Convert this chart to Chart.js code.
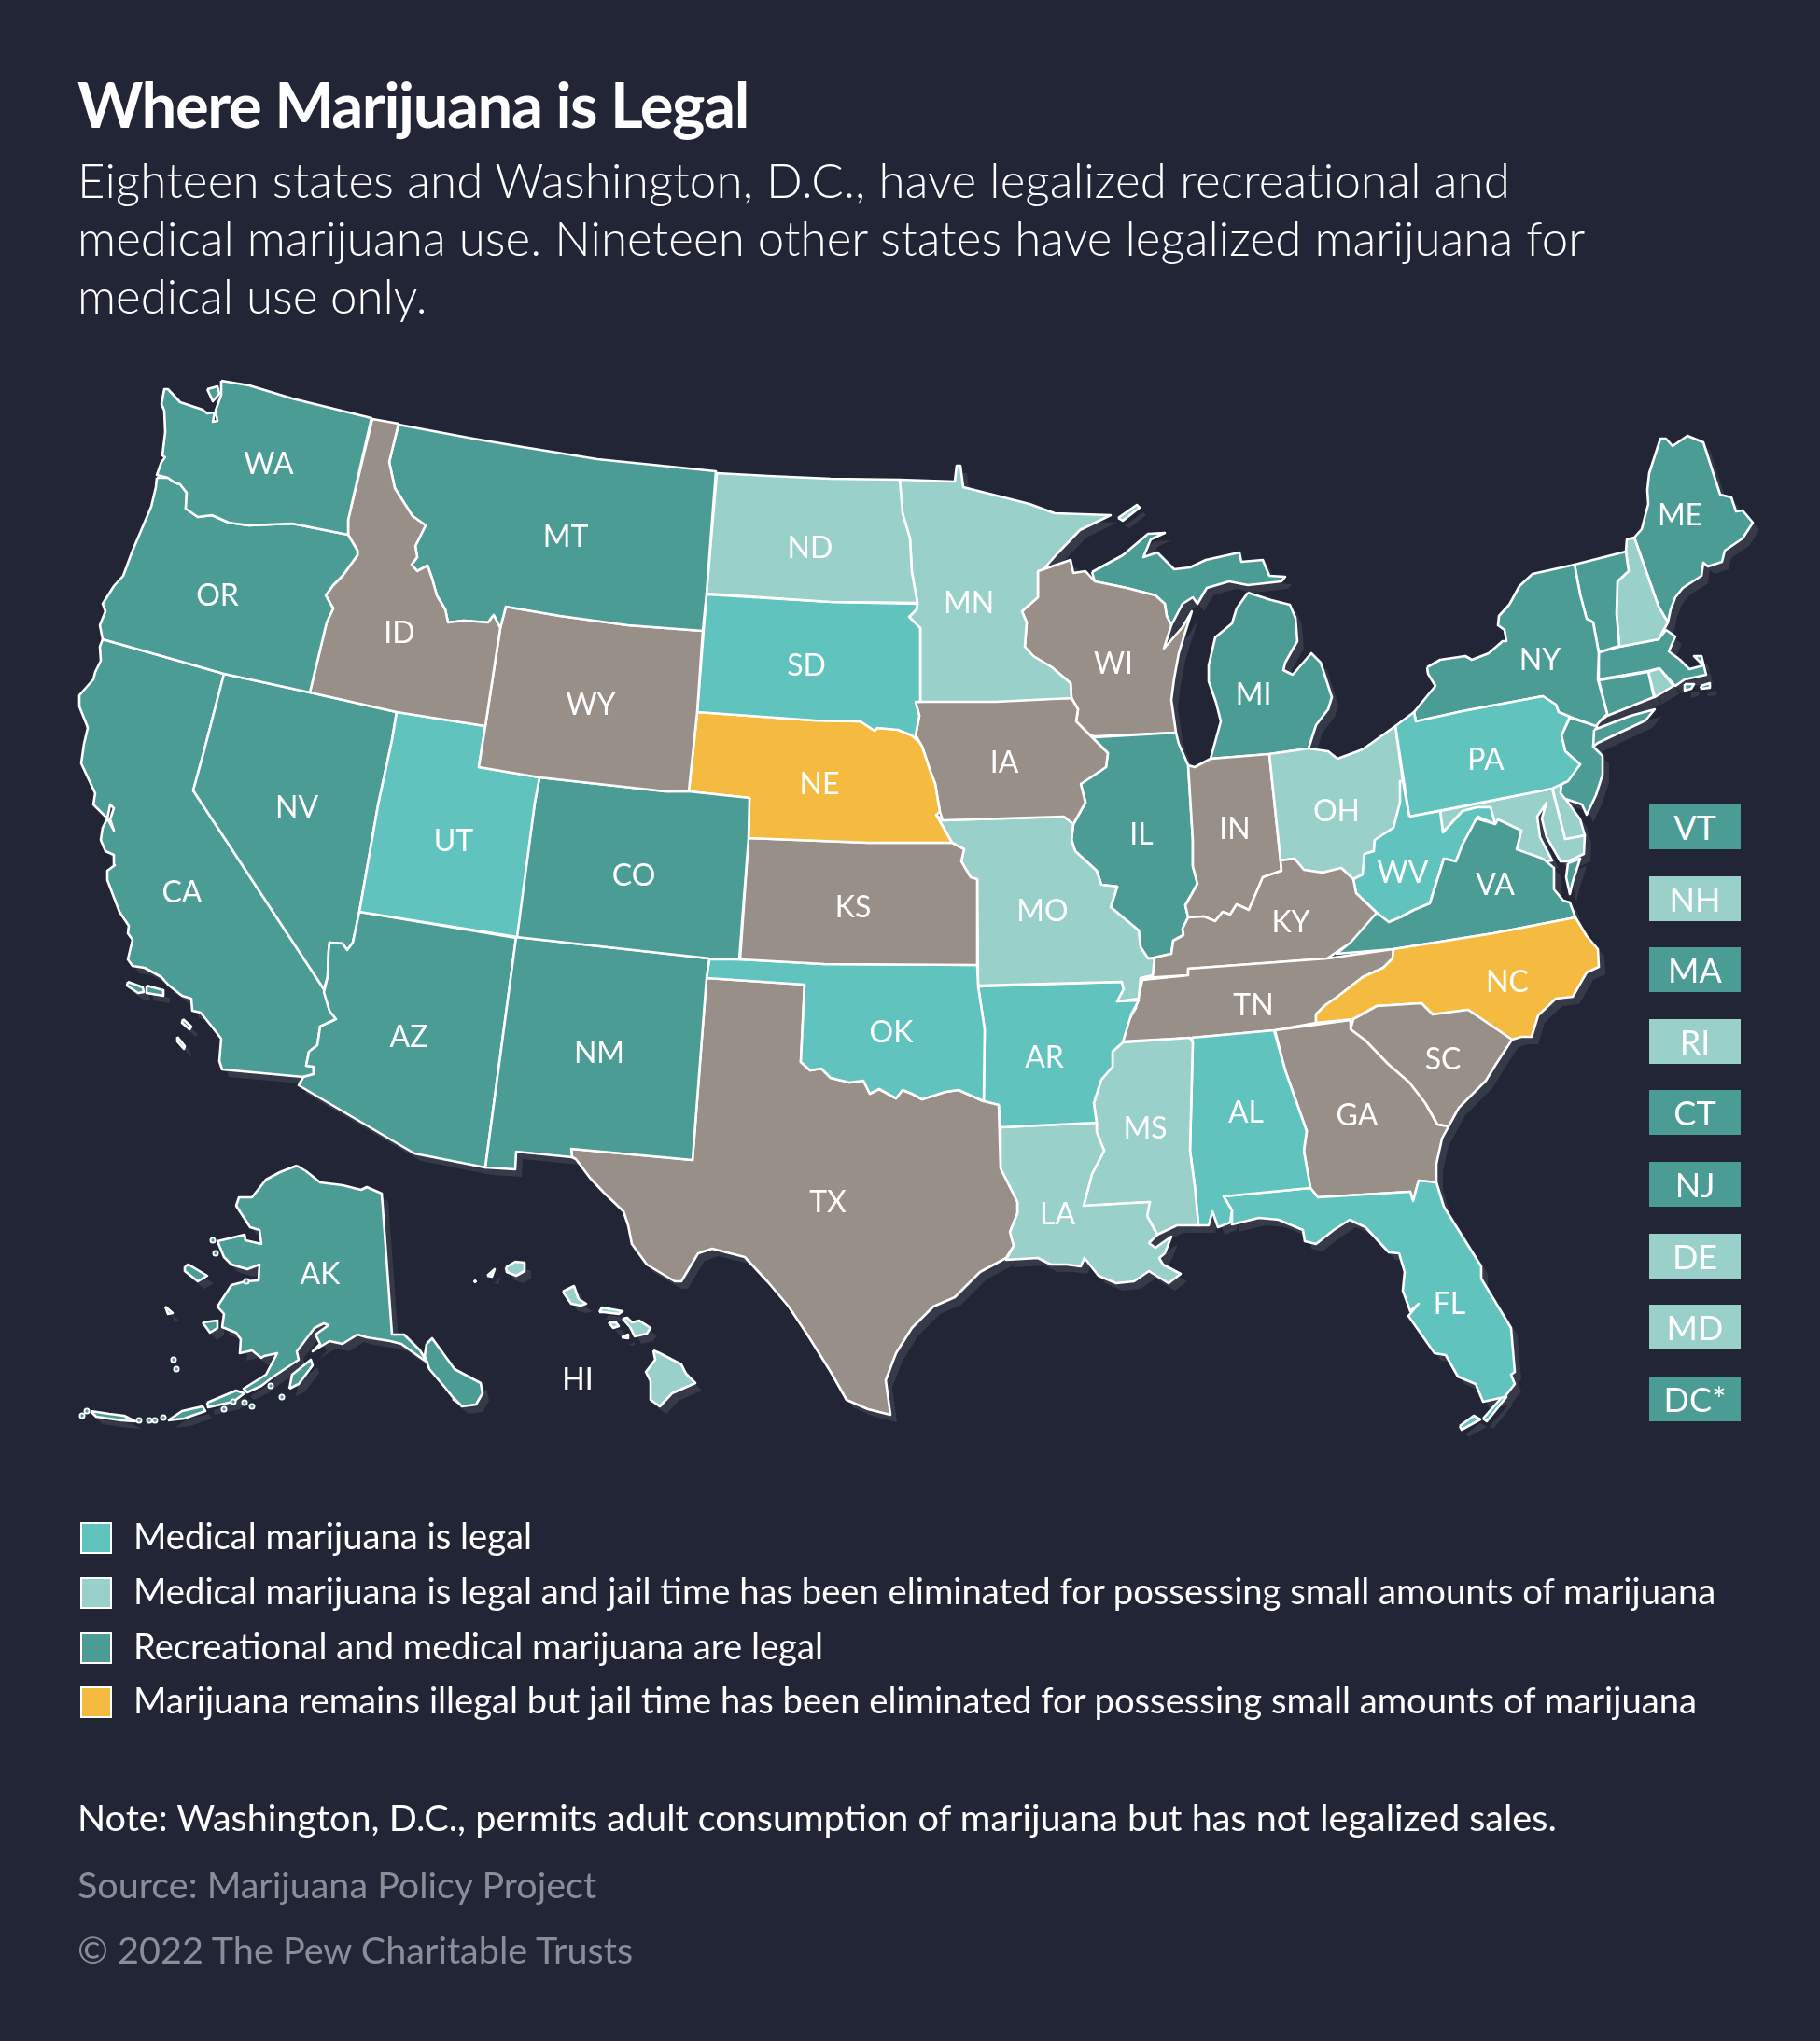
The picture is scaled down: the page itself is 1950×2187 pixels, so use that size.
<!DOCTYPE html>
<html><head><meta charset="utf-8">
<script src="https://cdn.jsdelivr.net/npm/chart.js@4"></script>
<style>
html,body{margin:0;padding:0;background:#222536;width:1950px;height:2187px;overflow:hidden}
#wrap{position:relative;width:1950px;height:2187px}
canvas{position:absolute;left:0;top:0}
.t{position:absolute;white-space:nowrap;font-family:Lato,sans-serif;line-height:1.2;color:#fff}
.box{position:absolute;left:1767px;width:98px;height:48px;text-align:center;font:400 36px/49px Lato,sans-serif;color:#fff}
.sw{position:absolute;left:86px;width:30px;height:30px;border:2px solid #fff}
</style></head><body><div id="wrap"><canvas id="c" width="1950" height="2187"></canvas></div>
<script>
const titleText='Where Marijuana is Legal';
const subtitleLines=['Eighteen states and Washington, D.C., have legalized recreational and','medical marijuana use. Nineteen other states have legalized marijuana for','medical use only.'];
const legendItems=['Medical marijuana is legal','Medical marijuana is legal and jail time has been eliminated for possessing small amounts of marijuana','Recreational and medical marijuana are legal','Marijuana remains illegal but jail time has been eliminated for possessing small amounts of marijuana'];
const noteText='Note: Washington, D.C., permits adult consumption of marijuana but has not legalized sales.';
const sourceText='Source: Marijuana Policy Project';
const copyText='© 2022 The Pew Charitable Trusts';
const MED='#60c3bd',DEC='#99d0ca',REC='#4c9c96',ILD='#f5bb41',ILL='#988f89';
const legendColors=[MED,DEC,REC,ILD];
const calloutCodes=['VT','NH','MA','RI','CT','NJ','DE','MD','DC*'];
const calloutColors=[REC,DEC,REC,DEC,REC,REC,DEC,DEC,REC];

const WA=[[237,408],[267,413],[313,427],[398,448],[373,557],[373,573],[313,561],[267,563],[245,560],[227,552],[212,554],[199,545],[200,528],[193,519],[187,517],[180,512],[168,509],[173,495],[177,490],[174,488],[177,463],[176,440],[173,433],[176,417],[180,417],[193,431],[217,439],[222,443],[230,442],[228,452],[233,451],[231,440],[237,423]];
const WA_isle=[[222,417],[233,414],[235,422],[228,430]];
const OR=[[168,512],[180,512],[187,517],[193,519],[200,528],[199,545],[212,554],[227,552],[245,560],[267,563],[313,561],[373,573],[383,590],[383,595],[367,617],[357,627],[349,638],[357,652],[350,667],[332,742],[240,722],[170,702],[110,685],[107,670],[113,655],[110,647],[122,628],[132,617],[142,590],[162,543],[167,522]];
const ID=[[399,449],[427,454],[417,495],[423,523],[442,553],[456,563],[445,585],[447,597],[441,605],[447,612],[458,606],[463,620],[468,638],[477,653],[480,667],[497,665],[523,667],[529,659],[536,673],[520,778],[425,763],[332,742],[350,667],[357,652],[349,638],[357,627],[367,617],[383,595],[383,590],[373,573],[373,557]];
const MT=[[427,455],[507,470],[560,479],[640,492],[767,505],[757,636],[753,676],[673,670],[600,660],[542,650],[536,673],[529,659],[523,667],[497,665],[480,667],[477,653],[468,638],[463,620],[458,606],[447,612],[441,605],[447,597],[445,585],[456,563],[442,553],[423,523],[417,495]];
const WY=[[542,650],[600,660],[673,670],[753,676],[747,763],[738,848],[713,848],[578,833],[513,822],[520,778],[536,673]];
const UT=[[425,763],[520,778],[513,822],[578,833],[573,860],[554,1004],[385,977],[405,863],[420,793]];
const CO=[[578,833],[713,848],[738,848],[803,855],[802,898],[792,1028],[760,1027],[553,1004],[573,860]];
const NM=[[553,1004],[760,1027],[757,1048],[742,1243],[612,1231],[613,1240],[553,1234],[552,1253],[520,1251]];
const AZ=[[385,977],[553,1005],[520,1251],[444,1236],[320,1163],[325,1154],[336,1151],[336,1143],[328,1142],[331,1127],[340,1120],[343,1100],[360,1092],[353,1083],[347,1063],[351,1047],[352,1020],[353,1010],[367,1011],[372,1018],[378,1010]];
const NV=[[240,722],[332,742],[425,763],[420,793],[405,863],[385,977],[378,1010],[372,1018],[367,1011],[353,1010],[352,1020],[351,1047],[347,1060],[207,847],[218,807]];
const CA=[[110,685],[240,722],[218,807],[207,847],[347,1060],[353,1083],[360,1092],[343,1100],[340,1120],[331,1127],[328,1142],[336,1143],[336,1151],[325,1154],[238,1146],[235,1137],[237,1113],[227,1100],[215,1085],[206,1083],[205,1070],[195,1067],[180,1055],[173,1047],[155,1037],[142,1035],[137,1028],[142,1007],[137,1000],[138,992],[128,977],[115,943],[115,933],[123,927],[122,916],[113,912],[108,900],[110,887],[115,877],[122,890],[118,878],[122,866],[118,862],[115,877],[100,862],[102,850],[87,818],[90,797],[94,780],[93,777],[85,757],[85,745],[100,728],[102,720],[108,708],[107,693]];
const CA_isle1=[[137,1052],[153,1058],[154,1063],[148,1064],[136,1056]];
const CA_isle2=[[157,1056],[175,1061],[175,1067],[157,1064]];
const CA_isle3=[[196,1092],[205,1100],[203,1103],[195,1096]];
const CA_isle4=[[190,1111],[198,1121],[197,1124],[190,1116]];
const ND=[[768,507],[823,510],[890,513],[964,514],[967,550],[975,577],[977,613],[983,646],[890,645],[757,636]];
const SD=[[757,637],[890,645],[983,647],[982,653],[974,661],[986,673],[986,752],[981,752],[985,767],[981,788],[985,795],[977,788],[962,782],[940,780],[937,783],[922,773],[873,772],[747,763]];
const NE=[[747,763],[873,772],[922,773],[937,783],[940,780],[962,782],[977,788],[985,795],[988,800],[997,827],[1002,840],[1007,870],[1003,873],[1020,903],[930,903],[802,898],[803,855],[738,848]];
const KS=[[802,898],[930,903],[1020,903],[1033,910],[1030,923],[1040,940],[1047,942],[1047,1034],[883,1033],[793,1028]];
const OK=[[760,1028],[793,1028],[883,1033],[1047,1034],[1048,1057],[1055,1103],[1054,1180],[1027,1168],[1013,1170],[988,1178],[977,1172],[967,1168],[960,1177],[942,1167],[932,1172],[925,1158],[910,1160],[890,1155],[880,1145],[868,1147],[858,1138],[862,1055],[757,1048]];
const TX=[[757,1048],[862,1055],[858,1138],[868,1147],[880,1145],[890,1155],[910,1160],[925,1158],[932,1172],[942,1167],[960,1177],[967,1168],[977,1172],[988,1178],[1013,1170],[1027,1168],[1054,1180],[1070,1184],[1072,1252],[1090,1288],[1090,1300],[1082,1320],[1086,1335],[1078,1348],[1050,1363],[1023,1390],[1000,1400],[977,1423],[960,1450],[949,1479],[954,1516],[930,1510],[907,1500],[890,1470],[865,1430],[845,1400],[823,1374],[798,1347],[763,1338],[748,1343],[730,1373],[723,1373],[693,1355],[677,1333],[673,1313],[668,1298],[647,1278],[632,1262],[617,1242],[613,1240],[612,1231],[742,1243]];
const MN=[[964,514],[1023,516],[1025,499],[1029,499],[1032,522],[1103,540],[1130,550],[1190,552],[1157,568],[1133,593],[1118,610],[1112,612],[1112,640],[1095,655],[1100,667],[1098,693],[1107,703],[1127,715],[1147,732],[1148,748],[1067,752],[986,752],[986,673],[974,661],[982,653],[983,646],[977,613],[975,577],[967,550]];
const MN_isle=[[1198,555],[1218,541],[1221,544],[1203,558]];
const IA=[[981,752],[1148,748],[1155,760],[1153,773],[1168,788],[1187,807],[1185,822],[1158,840],[1163,860],[1150,883],[1140,875],[1010,879],[1007,870],[1002,840],[997,827],[988,800],[985,795],[981,788],[985,767]];
const MO=[[1010,879],[1140,875],[1150,883],[1148,900],[1152,912],[1175,933],[1180,948],[1197,950],[1190,972],[1220,997],[1222,1015],[1230,1027],[1237,1027],[1235,1045],[1222,1048],[1220,1070],[1197,1073],[1204,1060],[1202,1052],[1048,1056],[1047,942],[1040,940],[1030,923],[1033,910],[1020,903],[1003,873]];
const AR=[[1048,1057],[1202,1052],[1204,1060],[1197,1073],[1220,1072],[1212,1087],[1203,1117],[1192,1127],[1192,1143],[1180,1157],[1172,1182],[1175,1203],[1072,1208],[1070,1184],[1054,1180],[1055,1103]];
const LA=[[1072,1208],[1175,1203],[1175,1213],[1183,1233],[1170,1258],[1161,1292],[1232,1288],[1229,1303],[1240,1323],[1231,1332],[1238,1337],[1255,1325],[1248,1343],[1242,1348],[1246,1355],[1265,1365],[1252,1375],[1231,1362],[1215,1373],[1196,1375],[1177,1367],[1162,1348],[1158,1357],[1143,1355],[1126,1355],[1112,1348],[1078,1350],[1086,1335],[1082,1320],[1090,1300],[1090,1288],[1072,1252]];
const MS=[[1203,1117],[1275,1112],[1278,1117],[1275,1233],[1280,1270],[1284,1313],[1261,1313],[1242,1322],[1240,1323],[1229,1303],[1232,1288],[1161,1292],[1170,1258],[1183,1233],[1175,1213],[1175,1203],[1172,1182],[1180,1157],[1192,1143],[1192,1127]];
const AL=[[1277,1112],[1365,1104],[1377,1147],[1400,1212],[1397,1233],[1404,1273],[1311,1282],[1320,1297],[1318,1310],[1305,1315],[1299,1298],[1295,1313],[1284,1313],[1280,1270],[1275,1233],[1278,1117]];
const FL=[[1311,1282],[1404,1273],[1412,1283],[1511,1277],[1514,1287],[1520,1265],[1539,1267],[1547,1293],[1587,1357],[1587,1370],[1619,1423],[1623,1470],[1619,1473],[1623,1483],[1612,1497],[1589,1502],[1581,1483],[1562,1475],[1549,1452],[1537,1450],[1509,1410],[1520,1397],[1511,1405],[1503,1383],[1505,1363],[1499,1343],[1488,1342],[1463,1315],[1446,1307],[1429,1318],[1410,1333],[1398,1330],[1396,1318],[1370,1307],[1349,1305],[1320,1312],[1320,1297]];
const FL_key1=[[1589,1520],[1612,1494],[1614,1497],[1593,1523]];
const FL_key2=[[1564,1528],[1579,1517],[1586,1521],[1566,1532]];
const GA=[[1366,1104],[1447,1093],[1447,1103],[1463,1115],[1487,1140],[1510,1160],[1527,1182],[1540,1205],[1552,1207],[1545,1220],[1539,1247],[1539,1267],[1520,1265],[1514,1287],[1511,1277],[1412,1283],[1404,1273],[1397,1233],[1400,1212],[1377,1147]];
const SC=[[1447,1103],[1450,1092],[1475,1078],[1523,1075],[1535,1087],[1573,1082],[1620,1114],[1603,1140],[1592,1158],[1563,1187],[1552,1207],[1540,1205],[1527,1182],[1510,1160],[1487,1140],[1463,1115]];
const NC=[[1410,1096],[1410,1087],[1420,1077],[1433,1068],[1460,1047],[1482,1037],[1492,1027],[1493,1017],[1600,1000],[1688,983],[1700,1003],[1712,1017],[1713,1036],[1700,1042],[1685,1068],[1667,1070],[1648,1088],[1641,1111],[1630,1111],[1620,1114],[1573,1082],[1535,1087],[1523,1075],[1475,1078],[1450,1092]];
const TN=[[1203,1116],[1208,1095],[1217,1080],[1224,1050],[1273,1045],[1273,1038],[1422,1027],[1493,1017],[1492,1027],[1482,1037],[1460,1047],[1433,1068],[1420,1077],[1410,1087],[1410,1096],[1366,1104],[1277,1112]];
const KY=[[1224,1048],[1235,1045],[1237,1026],[1255,1022],[1257,1008],[1268,1002],[1267,995],[1273,983],[1290,982],[1302,987],[1310,977],[1318,980],[1325,969],[1338,975],[1353,940],[1373,933],[1372,922],[1387,920],[1397,932],[1417,935],[1437,930],[1450,942],[1453,957],[1475,978],[1447,1010],[1422,1027],[1273,1038],[1273,1045]];
const VA=[[1475,978],[1488,988],[1500,983],[1515,975],[1532,968],[1547,920],[1560,923],[1567,905],[1582,877],[1602,883],[1605,878],[1630,890],[1625,910],[1653,920],[1665,930],[1665,953],[1675,965],[1682,967],[1688,983],[1600,1000],[1493,1017],[1432,1022],[1443,1013],[1450,1000]];
const VA_shore=[[1680,925],[1693,920],[1685,945],[1682,958],[1678,940]];
const WV=[[1510,875],[1543,869],[1546,892],[1567,869],[1583,865],[1597,865],[1602,883],[1583,875],[1567,905],[1560,923],[1547,920],[1532,968],[1515,975],[1500,983],[1488,988],[1475,978],[1453,957],[1450,942],[1460,937],[1462,915],[1472,912],[1473,900],[1493,887],[1500,860],[1500,837],[1503,837]];
const OH=[[1360,808],[1402,802],[1423,805],[1433,813],[1460,803],[1495,778],[1503,837],[1500,860],[1493,887],[1473,900],[1472,912],[1462,915],[1460,937],[1450,942],[1437,930],[1417,935],[1397,932],[1387,920],[1372,922]];
const IN=[[1273,820],[1280,822],[1297,813],[1360,808],[1372,922],[1373,933],[1353,940],[1338,975],[1325,969],[1318,980],[1310,977],[1302,987],[1290,982],[1273,983],[1270,970],[1283,947],[1278,928],[1278,900]];
const IL=[[1173,790],[1260,785],[1263,797],[1273,820],[1278,900],[1278,928],[1283,947],[1270,970],[1273,983],[1267,995],[1268,1002],[1257,1008],[1255,1022],[1237,1026],[1230,1027],[1222,1015],[1220,997],[1190,972],[1197,950],[1180,948],[1175,933],[1152,912],[1148,900],[1150,883],[1163,860],[1158,840],[1185,822],[1187,807],[1168,788]];
const WI=[[1112,612],[1118,610],[1147,600],[1150,614],[1163,612],[1173,623],[1207,630],[1238,638],[1248,647],[1250,660],[1255,670],[1247,695],[1267,672],[1277,655],[1270,677],[1263,700],[1258,727],[1255,750],[1260,785],[1173,789],[1168,788],[1153,773],[1155,760],[1148,748],[1147,732],[1127,715],[1107,703],[1098,693],[1100,667],[1095,655],[1112,640]];
const MI_upper=[[1170,613],[1190,602],[1203,595],[1230,572],[1248,571],[1233,578],[1225,597],[1240,592],[1258,610],[1275,608],[1292,600],[1328,592],[1330,602],[1353,600],[1360,617],[1377,618],[1373,623],[1337,627],[1317,623],[1293,630],[1283,647],[1278,640],[1267,647],[1255,670],[1250,660],[1248,647],[1238,638],[1207,630],[1173,623]];
const MI_lower=[[1337,635],[1362,643],[1382,648],[1388,662],[1390,687],[1377,710],[1375,718],[1385,723],[1405,700],[1415,710],[1427,747],[1423,760],[1410,777],[1402,802],[1360,808],[1297,813],[1308,773],[1303,753],[1295,730],[1295,713],[1302,683],[1320,668],[1325,652]];
const PA=[[1495,778],[1515,763],[1517,773],[1567,762],[1653,746],[1667,755],[1670,763],[1682,768],[1673,788],[1677,805],[1693,819],[1680,837],[1663,845],[1510,875]];
const NY=[[1529,715],[1543,707],[1570,703],[1577,707],[1595,700],[1610,687],[1614,687],[1612,675],[1605,670],[1606,660],[1617,648],[1628,628],[1642,615],[1687,605],[1693,637],[1700,663],[1707,667],[1713,700],[1712,728],[1722,765],[1715,772],[1710,778],[1682,768],[1670,763],[1667,755],[1653,746],[1567,762],[1517,773],[1515,763],[1538,735],[1530,722]];
const NY_long=[[1708,782],[1747,767],[1773,760],[1763,772],[1712,796],[1707,800]];
const VT=[[1687,605],[1742,591],[1745,612],[1733,623],[1732,658],[1735,692],[1713,699],[1707,667],[1700,663],[1693,637]];
const NH=[[1742,591],[1743,578],[1751,576],[1777,650],[1787,667],[1777,685],[1735,693],[1732,658],[1733,623],[1745,612]];
const ME=[[1751,576],[1759,567],[1766,540],[1765,525],[1767,507],[1779,470],[1785,470],[1792,478],[1808,467],[1825,474],[1843,530],[1855,533],[1860,548],[1867,547],[1878,560],[1867,577],[1848,590],[1845,602],[1830,607],[1825,603],[1823,617],[1803,630],[1795,640],[1790,653],[1787,667],[1777,650]];
const MA=[[1713,699],[1735,693],[1777,685],[1785,675],[1795,682],[1788,698],[1800,707],[1810,717],[1825,713],[1815,703],[1823,703],[1828,723],[1805,728],[1795,735],[1778,716],[1766,719],[1713,728]];
const CT=[[1713,729],[1766,720],[1772,747],[1722,767],[1715,772],[1722,765]];
const RI=[[1766,720],[1778,716],[1793,735],[1773,747]];
const MA_isle1=[[1805,733],[1815,733],[1812,738],[1805,740]];
const MA_isle2=[[1822,735],[1832,732],[1832,737],[1823,738]];
const NJ=[[1682,769],[1711,778],[1707,800],[1717,810],[1717,830],[1710,852],[1700,873],[1695,862],[1677,856],[1672,850],[1673,840],[1693,819],[1677,805],[1673,788]];
const DE=[[1663,843],[1673,840],[1672,850],[1678,857],[1693,878],[1698,895],[1677,899]];
const MD=[[1543,869],[1663,845],[1677,899],[1698,895],[1697,915],[1680,923],[1672,923],[1657,897],[1652,877],[1657,860],[1647,875],[1650,897],[1663,922],[1657,923],[1625,912],[1630,890],[1605,878],[1602,883],[1597,865],[1583,865],[1567,869],[1546,892]];
const DC=[[1627,887],[1632,890],[1629,895]];
const AK=[[318,1249],[328,1255],[343,1267],[367,1270],[387,1275],[393,1272],[409,1279],[420,1430],[433,1430],[450,1447],[458,1460],[448,1453],[430,1440],[418,1437],[393,1433],[383,1430],[367,1440],[353,1437],[335,1448],[343,1440],[338,1430],[352,1420],[347,1418],[337,1423],[318,1448],[320,1457],[293,1475],[280,1485],[265,1492],[261,1488],[285,1473],[297,1450],[283,1453],[280,1455],[270,1447],[257,1450],[258,1435],[253,1428],[238,1422],[240,1408],[233,1400],[248,1377],[263,1373],[277,1372],[278,1355],[265,1360],[248,1355],[240,1347],[233,1330],[262,1323],[263,1329],[280,1333],[278,1318],[268,1315],[253,1292],[256,1283],[270,1283],[285,1264],[300,1256]];
const AK_kodiak=[[310,1488],[313,1473],[333,1457],[335,1463],[320,1483]];
const AK_pan1=[[457,1440],[463,1434],[487,1467],[515,1482],[517,1493],[510,1505],[495,1507],[485,1497],[477,1487],[460,1467],[455,1453]];
const AK_pan2=[[470,1465],[482,1470],[487,1485],[478,1480]];
const AK_pan3=[[490,1480],[505,1488],[503,1500],[492,1495]];
const AK_pan4=[[458,1455],[470,1452],[476,1466],[464,1470]];
const AK_pan5=[[486,1490],[496,1497],[494,1505],[486,1500]];
const AK_pan6=[[468,1445],[478,1458],[474,1460],[465,1448]];
const AK_law=[[198,1357],[202,1355],[222,1367],[212,1373],[198,1362]];
const AK_nun=[[217,1417],[233,1415],[233,1423],[225,1428]];
const AK_mat=[[177,1400],[185,1407],[180,1408]];
const AK_al1=[[97,1512],[117,1515],[133,1517],[145,1523],[130,1522],[103,1518]];
const AK_al2=[[180,1522],[195,1512],[217,1507],[220,1512],[197,1520]];
const AK_al3=[[222,1503],[253,1490],[262,1493],[250,1502],[223,1508]];
const AK_islets=[[88,1517],[93,1512],[149,1522],[160,1522],[166,1522],[175,1519],[240,1510],[250,1502],[262,1503],[270,1507],[290,1485],[302,1497],[186,1457],[189,1467],[228,1329],[231,1343],[264,1373]];
const HI_kauai=[[542,1358],[552,1352],[562,1353],[562,1362],[553,1367],[543,1363]];
const HI_niihau=[[522,1367],[530,1360],[527,1368]];
const HI_oahu=[[603,1384],[615,1378],[620,1392],[628,1397],[622,1399],[612,1397]];
const HI_molokai=[[642,1406],[645,1401],[667,1405],[663,1408],[647,1406]];
const HI_lanai=[[652,1417],[660,1417],[663,1421],[657,1423]];
const HI_kaho=[[666,1433],[673,1430],[673,1434]];
const HI_maui=[[667,1413],[672,1412],[677,1417],[685,1415],[697,1423],[693,1429],[680,1432],[675,1422]];
const HI_big=[[700,1447],[707,1450],[730,1462],[735,1472],[745,1482],[720,1493],[707,1507],[697,1500],[697,1480],[692,1470],[702,1457]];

const shapes=[[WA,REC],[WA_isle,REC],[OR,REC],[ID,ILL],[MT,REC],[WY,ILL],[UT,MED],[CO,REC],[NM,REC],[AZ,REC],[NV,REC],[CA,REC],[CA_isle1,REC],[CA_isle2,REC],[CA_isle3,REC],[CA_isle4,REC],[ND,DEC],[SD,MED],[NE,ILD],[KS,ILL],[OK,MED],[TX,ILL],[MN,DEC],[MN_isle,DEC],[IA,ILL],[MO,DEC],[AR,MED],[LA,DEC],[MS,DEC],[AL,MED],[FL,MED],[FL_key1,MED],[FL_key2,MED],[GA,ILL],[SC,ILL],[NC,ILD],[TN,ILL],[KY,ILL],[VA,REC],[VA_shore,REC],[WV,MED],[OH,DEC],[IN,ILL],[IL,REC],[WI,ILL],[MI_upper,REC],[MI_lower,REC],[PA,MED],[NY,REC],[NY_long,REC],[VT,REC],[NH,DEC],[ME,REC],[MA,REC],[CT,REC],[RI,DEC],[MA_isle1,REC],[MA_isle2,REC],[NJ,REC],[DE,DEC],[MD,DEC],[DC,REC],[AK,REC],[AK_kodiak,REC],[AK_pan1,REC],[AK_pan2,REC],[AK_pan3,REC],[AK_pan4,REC],[AK_pan5,REC],[AK_pan6,REC],[AK_law,REC],[AK_nun,REC],[AK_mat,REC],[AK_al1,REC],[AK_al2,REC],[AK_al3,REC],[HI_kauai,DEC],[HI_niihau,DEC],[HI_oahu,DEC],[HI_molokai,DEC],[HI_lanai,DEC],[HI_kaho,DEC],[HI_maui,DEC],[HI_big,DEC]];

const stateCodes=['WA','OR','ID','CA','NV','UT','AZ','MT','ND','SD','WY','NE','CO','KS','NM','OK','MN','WI','MI','IA','IL','IN','OH','MO','KY','TN','AR','MS','AL','GA','SC','NC','VA','WV','ME','NY','PA','LA','FL','AK','HI','TX'];
const labelX=[288,233,428,195,318,486,438,606,868,864,633,878,679,914,642,955,1038,1193,1343,1076,1223,1323,1432,1117,1383,1343,1119,1227,1335,1454,1546,1615,1602,1503,1800,1650,1592,1133,1553,343,619,887];
const labelY=[496,637,677,955,864,900,1110,574,586,712,754,839,937,971,1127,1105,645,710,743,816,893,887,868,975,987,1076,1132,1208,1191,1194,1134,1051,947,934,551,706,813,1300,1396,1364,1477,1287];

const closed=p=>p.concat([p[0]]).map(([x,y])=>({x,y}));
const shadowDx=7,shadowDy=8,SHADOW='#363a48';
const datasets=[];
shapes.forEach(([p,col])=>{
  datasets.push({type:'scatter',showLine:true,data:closed(p),polyFill:col,borderColor:'#fff',borderWidth:2.6,borderJoinStyle:'round',pointRadius:0,tension:0,order:1,clip:false});
  datasets.push({type:'scatter',showLine:false,data:closed(p).map(d=>({x:d.x+shadowDx,y:d.y+shadowDy})),polyFill:SHADOW,pointRadius:0,order:3,clip:false});
});
datasets.push({type:'scatter',data:AK_islets.map(([x,y])=>({x,y})),pointRadius:2.6,pointBackgroundColor:REC,pointBorderColor:'#fff',pointBorderWidth:1.8,order:0,clip:false});
datasets.push({type:'scatter',data:[{x:509,y:1373}],pointRadius:1.5,pointBackgroundColor:'#fff',pointBorderColor:'#fff',order:0,clip:false});

const polyFill={id:'polyFill',beforeDatasetDraw(chart,args){
  const ds=chart.data.datasets[args.index];if(!ds.polyFill)return;
  const pts=args.meta.data,ctx=chart.ctx;ctx.save();ctx.beginPath();
  pts.forEach((e,i)=>i?ctx.lineTo(e.x,e.y):ctx.moveTo(e.x,e.y));
  ctx.closePath();ctx.fillStyle=ds.polyFill;ctx.fill();ctx.restore();
}};
const stateLabels={id:'stateLabels',afterDatasetsDraw(chart){
  const {x,y}=chart.scales,ctx=chart.ctx;ctx.save();
  ctx.font='400 32px Lato, sans-serif';ctx.fillStyle='#fff';ctx.textAlign='center';ctx.textBaseline='alphabetic';
  stateCodes.forEach((c,i)=>{ctx.fillText(c,x.getPixelForValue(labelX[i]),y.getPixelForValue(labelY[i])+11.5);});
  ctx.restore();
}};
new Chart(document.getElementById('c'),{type:'scatter',data:{datasets},plugins:[polyFill,stateLabels],options:{
  responsive:false,animation:false,events:[],layout:{padding:0,autoPadding:false},
  plugins:{legend:{display:false},title:{display:false},tooltip:{enabled:false}},
  scales:{x:{type:'linear',display:false,min:0,max:1950},y:{type:'linear',display:false,min:0,max:2187,reverse:true}}
}});

const wrap=document.getElementById('wrap');
function txt(s,x,base,size,weight,color,extra){const e=document.createElement('div');e.className='t';e.textContent=s;
  e.style.cssText=`left:${x}px;top:${base-0.987*size}px;font-size:${size}px;font-weight:${weight};color:${color};${extra||''}`;wrap.appendChild(e);return e;}
txt(titleText,83,137,67,700,'#fff','letter-spacing:-1.4px');
const subSpacing=[0.2,0.11,0];
[212,274,336].forEach((b,i)=>txt(subtitleLines[i],83,b,51,300,'#fff',`letter-spacing:${subSpacing[i]}px`));
[1661,1720,1779,1837].forEach((b,i)=>{txt(legendItems[i],143,b,38.2,400,'#fff');
  const s=document.createElement('div');s.className='sw';s.style.top=(b-30)+'px';s.style.background=legendColors[i];wrap.appendChild(s);});
txt(noteText,83,1962,39.6,400,'#fff');
txt(sourceText,83,2034,39.5,400,'#8b8e99');
txt(copyText,83,2104,39.6,400,'#8b8e99');
calloutCodes.forEach((c,i)=>{const b=document.createElement('div');b.className='box';b.textContent=c;b.style.top=(862+i*76.6)+'px';b.style.background=calloutColors[i];wrap.appendChild(b);});
</script></body></html>
